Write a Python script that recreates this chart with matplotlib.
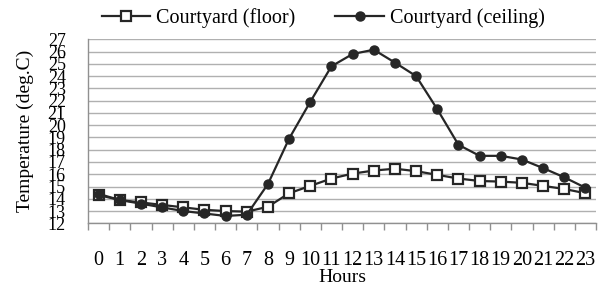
import matplotlib
matplotlib.use("Agg")
import matplotlib.pyplot as plt
import numpy as np

plt.rcParams["font.family"] = ["Liberation Serif", "DejaVu Serif"]

HOURS = list(range(24))
FLOOR = [14.3, 13.9, 13.7, 13.5, 13.3, 13.1, 13.0, 12.95, 13.35, 14.45, 15.05, 15.65,
         16.05, 16.3, 16.45, 16.25, 15.95, 15.65, 15.45, 15.4, 15.3, 15.05, 14.8, 14.45]
CEILING = [14.4, 13.9, 13.6, 13.3, 13.0, 12.8, 12.6, 12.7, 15.2, 18.9, 21.9, 24.8,
           25.8, 26.15, 25.1, 24.0, 21.3, 18.4, 17.5, 17.5, 17.2, 16.5, 15.75, 14.9]
Y_TICKS = list(range(12, 28))

fig = plt.figure(figsize=(6.04, 2.86), dpi=100)
ax = fig.add_axes([0.1457, 0.2192, 0.8411, 0.6434])

line_col = "#262626"
ax.plot(HOURS, FLOOR, "-s", color=line_col, linewidth=1.6, markersize=6.5,
        markerfacecolor="white", markeredgecolor=line_col, markeredgewidth=1.6,
        label="Courtyard (floor)", zorder=3)
ax.plot(HOURS, CEILING, "-o", color=line_col, linewidth=1.6, markersize=6.5,
        markerfacecolor=line_col, markeredgecolor=line_col,
        label="Courtyard (ceiling)", zorder=4)

ax.set_xlim(-0.5, 23.5)
ax.set_ylim(12, 27)
ax.set_yticks(Y_TICKS)
ax.set_xticks(HOURS)
ax.set_xticks(np.arange(-0.5, 24, 1), minor=True)
ax.tick_params(axis="x", which="major", length=0, pad=20, labelsize=14.5)
ax.tick_params(axis="x", which="minor", length=5, color="#909090", width=1)
ax.tick_params(axis="y", length=0, pad=16, labelsize=13)

ax.grid(axis="y", color="#b0b0b0", linewidth=1)
ax.set_axisbelow(True)
for side in ("top", "right"):
    ax.spines[side].set_visible(False)
for side in ("left", "bottom"):
    ax.spines[side].set_color("#909090")
    ax.spines[side].set_linewidth(1)

ax.set_xlabel("Hours", fontsize=14, labelpad=-1)
ax.set_ylabel("Temperature (deg.C)", fontsize=14, labelpad=10)

fig.legend(loc="upper center", bbox_to_anchor=(0.535, 1.035), ncol=2, frameon=False,
           fontsize=14.5, handlelength=2.4, columnspacing=2.0, handletextpad=0.3)

fig.savefig("out.png", dpi=100)
